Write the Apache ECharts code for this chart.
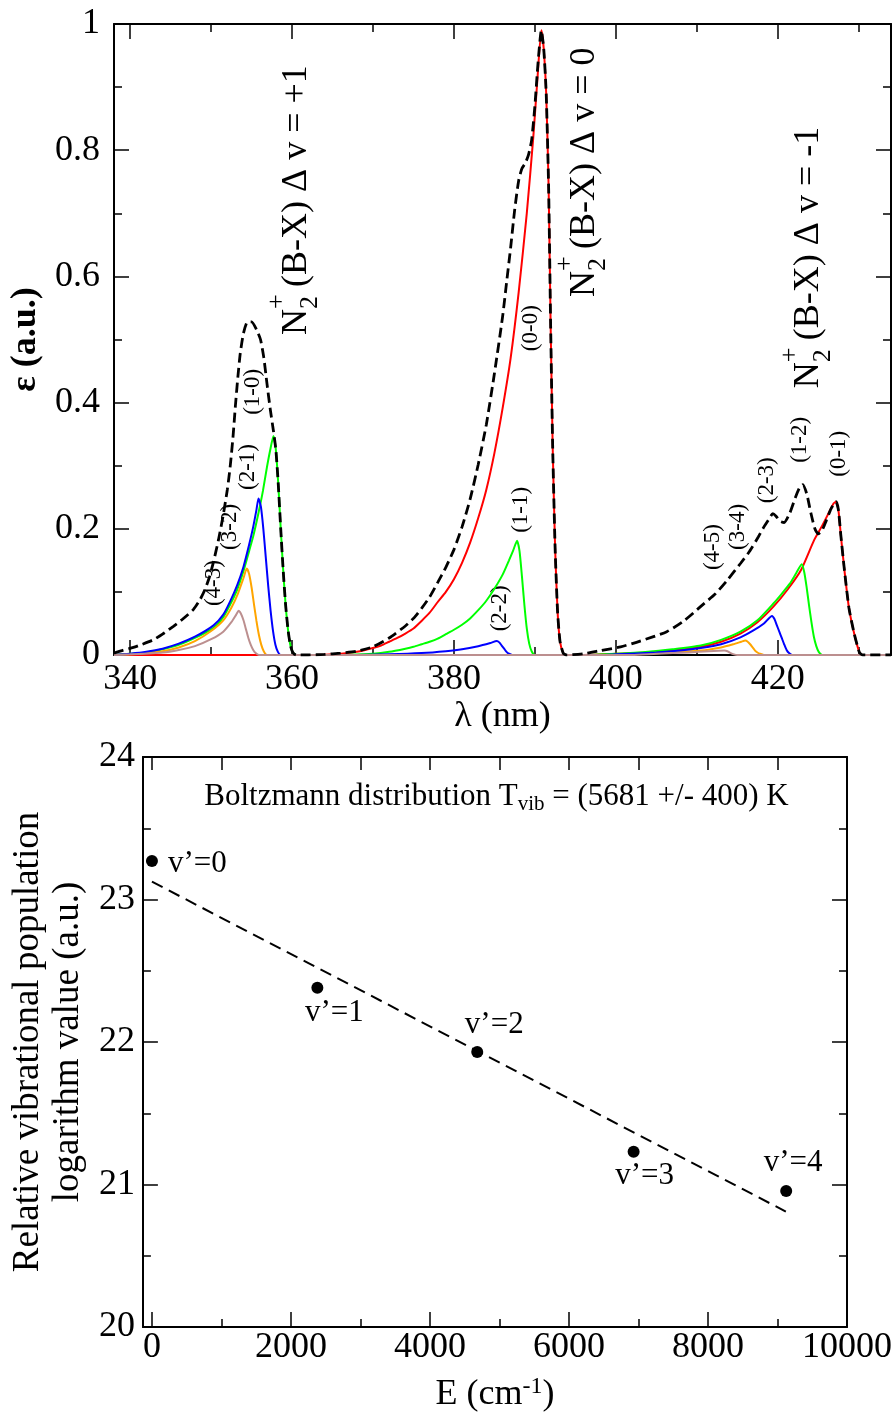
<!DOCTYPE html>
<html><head><meta charset="utf-8">
<script src="https://cdn.jsdelivr.net/npm/echarts@6/dist/echarts.min.js"></script>
<style>html,body{margin:0;padding:0;background:#fff}#c{width:896px;height:1416px}</style>
</head><body><div id="c"></div>
<script>
// ---------------- DATA (top: emission spectra, [lambda nm, intensity a.u.]) ----------------
const lambdaMajor = [340, 360, 380, 400, 420];
const lambdaMinor = [350, 370, 390, 410, 430];

// v'=0 : (0-0) and (0-1)
const bandV0 = [[338,0],[362,0],[364,0.0005],[366,0.002],[368,0.005],[370,0.011],[371,0.015],[372,0.021],[373,0.027],[374,0.034],[375,0.042],[376,0.054],[377,0.067],[378,0.084],[379,0.1],[380,0.12],[381,0.146],[382,0.178],[383,0.217],[384,0.262],[385,0.32],[386,0.39],[387,0.47],[388,0.575],[389,0.7],[389.8,0.82],[390.3,0.91],[390.8,0.99],[391.1,0.96],[391.4,0.89],[391.7,0.74],[391.95,0.52],[392.2,0.33],[392.5,0.17],[392.8,0.07],[393.1,0.022],[393.5,0.003],[393.9,0],
  [396,0],[400,0.002],[404.3,0.004],[407,0.007],[410.5,0.013],[413,0.021],[415.4,0.034],[417.5,0.052],[419.5,0.077],[421.3,0.105],[422.9,0.135],[424.5,0.182],[425.5,0.205],[426.3,0.225],[426.9,0.24],[427.2,0.243],[427.5,0.23],[427.8,0.19],[428.2,0.14],[428.8,0.075],[429.45,0.034],[430.1,0.004],[430.5,0],[434,0]];
// v'=1 : (1-0), (1-1), (1-2)
const bandV1 = [[338,0],[340,0.002],[342,0.004],[344,0.009],[346,0.016],[348,0.027],[350.3,0.043],[351.5,0.06],[352.35,0.08],[353.2,0.103],[354,0.133],[354.7,0.165],[355.2,0.188],[355.85,0.225],[356.4,0.26],[356.9,0.298],[357.3,0.325],[357.7,0.347],[358.0,0.325],[358.3,0.27],[358.6,0.2],[358.9,0.135],[359.2,0.08],[359.5,0.04],[359.8,0.015],[360.1,0.004],[360.5,0],
  [364,0],[367,0.0005],[370,0.002],[372,0.005],[374,0.01],[375,0.013],[376,0.017],[377,0.021],[378,0.026],[379,0.033],[380,0.04],[381,0.048],[382,0.058],[383,0.071],[384,0.086],[385,0.105],[386,0.127],[386.8,0.15],[387.3,0.165],[387.8,0.181],[388.1,0.165],[388.4,0.125],[388.7,0.08],[389.0,0.042],[389.3,0.018],[389.6,0.006],[390.0,0],
  [396,0],[400,0.002],[404,0.005],[407,0.009],[410.5,0.015],[413,0.024],[415.4,0.037],[417.5,0.055],[419.5,0.082],[420.5,0.097],[421.5,0.113],[422.3,0.13],[422.97,0.144],[423.27,0.132],[423.57,0.108],[423.87,0.079],[424.17,0.052],[424.47,0.029],[424.77,0.014],[425.07,0.005],[425.5,0],[434,0]];
// v'=2 : (2-1), (2-2), (2-3)
const bandV2 = [[338,0],[340,0.002],[342,0.005],[344,0.01],[346,0.018],[348,0.029],[350.3,0.047],[351.5,0.064],[352.35,0.085],[353.2,0.11],[354,0.14],[354.7,0.175],[355.2,0.203],[355.6,0.23],[355.85,0.248],[356.15,0.235],[356.45,0.2],[356.75,0.155],[357.05,0.11],[357.35,0.07],[357.65,0.038],[357.95,0.016],[358.25,0.005],[358.6,0],
  [368,0],[372,0.001],[376,0.003],[379,0.006],[381,0.009],[383,0.014],[384.5,0.019],[385.3,0.022],[385.6,0.02],[385.9,0.015],[386.2,0.01],[386.5,0.005],[386.8,0.002],[387.2,0],
  [398,0],[400,0.001],[405,0.004],[408,0.007],[410.5,0.011],[413,0.017],[415.4,0.028],[417,0.039],[418.3,0.05],[419.3,0.062],[419.6,0.057],[419.9,0.047],[420.2,0.037],[420.5,0.027],[420.8,0.017],[421.1,0.008],[421.4,0.003],[421.8,0],[434,0]];
// v'=3 : (3-2), (3-4)
const bandV3 = [[338,0],[340,0.001],[342,0.003],[344,0.006],[346,0.012],[348,0.022],[350,0.038],[351.5,0.055],[352.5,0.075],[353.3,0.097],[354,0.122],[354.4,0.137],[354.7,0.128],[355.0,0.107],[355.3,0.08],[355.6,0.054],[355.9,0.032],[356.2,0.016],[356.5,0.006],[356.9,0],
  [400,0],[405.5,0.003],[410.5,0.007],[413,0.012],[414.5,0.017],[415.5,0.021],[416,0.023],[416.3,0.021],[416.6,0.017],[416.9,0.012],[417.2,0.007],[417.5,0.004],[417.8,0.002],[418.3,0],[434,0]];
// v'=4 : (4-3), (4-5)
const bandV4 = [[338,0],[340,0.001],[344,0.004],[346,0.008],[348,0.014],[350,0.025],[351.5,0.037],[352.5,0.052],[353.1,0.064],[353.4,0.07],[353.7,0.065],[354.0,0.055],[354.3,0.041],[354.6,0.027],[354.9,0.016],[355.2,0.008],[355.5,0.003],[355.9,0],
  [402,0],[405,0.002],[409,0.004],[411.5,0.006],[413.4,0.007],[413.8,0.006],[414.2,0.003],[414.6,0.001],[415,0],[434,0]];
// total (sum) spectrum
const totalSpectrum = [[338,0.003],[339,0.007],[340.4,0.012],[341.5,0.017],[342.85,0.024],[344,0.033],[345.3,0.045],[346.5,0.057],[347.8,0.072],[348.6,0.087],[349.25,0.104],[349.8,0.124],[350.3,0.148],[350.9,0.182],[351.5,0.222],[352,0.262],[352.35,0.298],[352.7,0.345],[353,0.395],[353.3,0.44],[353.6,0.478],[354,0.51],[354.5,0.528],[355,0.528],[355.6,0.516],[356.1,0.5],[356.5,0.472],[356.9,0.43],[357.3,0.39],[357.7,0.355],[358.0,0.325],[358.3,0.27],[358.6,0.2],[358.9,0.135],[359.2,0.08],[359.5,0.04],[359.8,0.015],[360.1,0.004],[360.5,0],
  [362,0],[364,0.001],[366,0.003],[368,0.006],[370,0.013],[372,0.027],[374,0.046],[375,0.058],[376,0.074],[377,0.092],[378,0.115],[379,0.139],[380,0.167],[381,0.203],[382,0.247],[383,0.302],[384,0.365],[385,0.446],[386,0.535],[386.5,0.59],[387,0.645],[387.5,0.705],[388,0.752],[388.4,0.771],[388.8,0.779],[389.2,0.792],[389.6,0.816],[390.0,0.87],[390.4,0.94],[390.8,0.99],[391.1,0.96],[391.4,0.89],[391.7,0.74],[391.95,0.52],[392.2,0.33],[392.5,0.17],[392.8,0.07],[393.1,0.022],[393.5,0.003],[393.9,0],
  [396,0.002],[398.1,0.007],[400.6,0.013],[403,0.022],[406.3,0.037],[408.5,0.055],[410.5,0.077],[412.3,0.097],[413.8,0.119],[415.4,0.145],[416.4,0.162],[416.9,0.172],[417.6,0.187],[418.3,0.203],[418.9,0.215],[419.4,0.224],[419.8,0.22],[420.3,0.212],[420.8,0.21],[421.5,0.225],[422.2,0.25],[422.7,0.265],[423.1,0.27],[423.6,0.255],[424.1,0.225],[424.6,0.2],[425.0,0.192],[425.5,0.198],[426.0,0.213],[426.6,0.232],[427.2,0.243],[427.5,0.23],[427.8,0.19],[428.2,0.14],[428.8,0.075],[429.45,0.034],[430.1,0.004],[430.5,0],[434,0]];

// band labels: [text, lambda, intensity] (label centre)
const bandLabels = [["(4-3)",350.3,0.114],["(3-2)",352.3,0.203],["(2-1)",354.6,0.298],["(1-0)",355.2,0.417],
  ["(0-0)",389.5,0.518],["(1-1)",388.3,0.230],["(2-2)",385.7,0.074],
  ["(4-5)",412.0,0.171],["(3-4)",415.1,0.203],["(2-3)",418.7,0.277],["(1-2)",422.7,0.341],["(0-1)",427.6,0.319]];
// sequence labels: [delta-v text, lambda, intensity]
const sequenceLabels = [["+1",360.56,0.721],["0",396.1,0.765],["-1",423.84,0.630]];

// ---------------- DATA (bottom: Boltzmann plot) ----------------
const energyMajor = [0, 2000, 4000, 6000, 8000, 10000];
const energyMinor = [1000, 3000, 5000, 7000, 9000];
const energyTop = [0,1000,2000,3000,4000,5000,6000,7000,8000,9000,10000];
const levelNames = ["v\u2019=0","v\u2019=1","v\u2019=2","v\u2019=3","v\u2019=4"];
const levelEnergy = [0, 2380, 4680, 6930, 9125];
const levelLnPop = [23.27, 22.38, 21.93, 21.23, 20.955];
const fitLine = [[0, 23.125], [9120, 20.81]];
const boltzText = [4957, 23.72];

// ---------------- CHART ----------------
const FONT = '"Liberation Serif", "Times New Roman", serif';
const BLACK = '#000';
const chart = echarts.init(document.getElementById('c'), null, {renderer: 'canvas'});

function xAx(grid, pos, min, max, ticks, len, opts) {
  opts = opts || {};
  return Object.assign({
    gridIndex: grid, type: 'value', position: pos, min: min, max: max,
    axisLine: {show: !!opts.line, onZero: false, lineStyle: {color: BLACK, width: 2}},
    axisTick: {show: true, inside: true, length: len, customValues: ticks, lineStyle: {color: BLACK, width: 1.5}},
    axisLabel: opts.labels ? {show: true, customValues: ticks, fontSize: 36, fontFamily: FONT, color: BLACK, margin: opts.margin || 7, formatter: v => String(v)} : {show: false},
    splitLine: {show: false}
  }, opts.extra || {});
}
function yAx(grid, pos, min, max, interval, labels, margin, extra) {
  return Object.assign({
    gridIndex: grid, type: 'value', position: pos, min: min, max: max, interval: interval,
    axisLine: {show: true, onZero: false, lineStyle: {color: BLACK, width: 2}},
    axisTick: {show: true, inside: true, length: 15, lineStyle: {color: BLACK, width: 1.5}},
    minorTick: {show: true, splitNumber: 2, length: 8, lineStyle: {color: BLACK, width: 1.5}},
    axisLabel: labels ? {show: true, fontSize: 36, fontFamily: FONT, color: BLACK, margin: margin, formatter: v => String(v)} : {show: false},
    splitLine: {show: false}, minorSplitLine: {show: false}
  }, extra || {});
}

const lineSeries = (name, data, color) => ({
  name: name, type: 'line', xAxisIndex: 0, yAxisIndex: 0, data: data, showSymbol: false, symbol: 'none',
  smooth: 0.2, lineStyle: {color: color, width: 2}, z: 2, animation: false
});

const labelPlacement = [['right', 10, [0, 3]], ['bottom', 4, [17, 0]], ['top', 6, [17, 0]], ['bottom', 3, [11, 0]], ['top', 7, [7, 0]]];

const option = {
  animation: false,
  backgroundColor: '#fff',
  grid: [
    {left: 114, top: 24, width: 777, height: 631},
    {left: 137, top: 757, width: 710, height: 570}
  ],
  xAxis: [
    xAx(0, 'bottom', 338, 434, lambdaMajor, 15, {line: true, labels: true, margin: 7, extra: {
      name: '\u03bb (nm)', nameLocation: 'middle', nameGap: 44,
      nameTextStyle: {fontSize: 36, fontFamily: FONT, color: BLACK}}}),
    xAx(0, 'bottom', 338, 434, lambdaMinor, 8),
    xAx(0, 'top', 338, 434, lambdaMajor, 15, {line: true}),
    xAx(0, 'top', 338, 434, lambdaMinor, 8),
    xAx(1, 'bottom', -130, 10000, energyMajor, 15, {line: true, labels: true, margin: 3, extra: {
      name: '{a|E (cm}{s|-1}{a|)}', nameLocation: 'middle', nameGap: 48,
      nameTextStyle: {fontSize: 36, fontFamily: FONT, color: BLACK, rich: {
        a: {fontSize: 36, fontFamily: FONT, color: BLACK, lineHeight: 40},
        s: {fontSize: 24, fontFamily: FONT, color: BLACK, lineHeight: 4, verticalAlign: 'top'}}}}}),
    xAx(1, 'bottom', -130, 10000, energyMinor, 8),
    xAx(1, 'top', -130, 10000, energyTop, 13, {line: true})
  ],
  yAxis: [
    yAx(0, 'left', 0, 1, 0.2, true, 14, {name: '\u03b5 (a.u.)', nameLocation: 'middle', nameRotate: 90, nameGap: 57,
      nameTextStyle: {fontSize: 36, fontFamily: FONT, color: BLACK, fontWeight: 'bold'}}),
    yAx(0, 'right', 0, 1, 0.2, false),
    yAx(1, 'left', 20, 24, 1, true, 8, {name: 'Relative vibrational population\nlogarithm value (a.u.)', nameLocation: 'middle', nameRotate: 90, nameGap: 48,
      nameTextStyle: {fontSize: 37, fontFamily: FONT, color: BLACK, lineHeight: 40}}),
    yAx(1, 'right', 20, 24, 1, false)
  ],
  series: [
    lineSeries('v0', bandV0, '#ff0000'),
    lineSeries('v1', bandV1, '#00ff00'),
    lineSeries('v3', bandV3, '#ffa500'),
    lineSeries('v2', bandV2, '#0000ff'),
    lineSeries('v4', bandV4, '#bc8f8f'),
    Object.assign(lineSeries('total', totalSpectrum, BLACK), {lineStyle: {color: BLACK, width: 2.8, type: [10, 5]}, z: 5}),
    {
      name: 'fit', type: 'line', xAxisIndex: 4, yAxisIndex: 2, data: fitLine, showSymbol: false, symbol: 'none',
      lineStyle: {color: BLACK, width: 2, type: [12, 7]}, z: 2
    },
    {
      name: 'levels', type: 'scatter', xAxisIndex: 4, yAxisIndex: 2, symbol: 'circle', symbolSize: 12,
      itemStyle: {color: BLACK, opacity: 1}, z: 3,
      data: levelEnergy.map((e, i) => {
        const pos = labelPlacement[i];
        return {value: [e, levelLnPop[i]], label: {show: true, position: pos[0], distance: pos[1], offset: pos[2], color: BLACK}};
      }),
      label: {show: true, formatter: p => levelNames[p.dataIndex], fontSize: 31, fontFamily: FONT, color: BLACK},
      emphasis: {disabled: true}
    }
  ]
};
chart.setOption(option);

// ---------------- TEXT ANNOTATIONS ----------------
const mctx = document.createElement('canvas').getContext('2d');
function tw(t, s) { mctx.font = s + 'px ' + FONT; return mctx.measureText(t).width; }
function rotGroup(parts, cx, cy) {
  let x = 0; const items = [];
  for (const p of parts) { items.push({t: p.t, s: p.s, dy: p.dy || 0, x: x}); if (p.adv !== false) x += tw(p.t, p.s); }
  const off = -x / 2;
  return {type: 'group', x: cx, y: cy, rotation: Math.PI / 2, silent: true,
    children: items.map(it => ({type: 'text', x: it.x + off, y: it.dy,
      style: {text: it.t, fontSize: it.s, fontFamily: FONT, fill: BLACK, textAlign: 'left', textVerticalAlign: 'middle', align: 'left', verticalAlign: 'middle'}}))};
}
const graphics = [];
sequenceLabels.forEach(([dv, l, v]) => {
  const p = chart.convertToPixel({seriesIndex: 0}, [l, v]);
  graphics.push(rotGroup([
    {t: 'N', s: 36},
    {t: '+', s: 26, dy: -19, adv: false},
    {t: '2', s: 26, dy: 14},
    {t: ' (B-X) \u0394 v = ' + dv, s: 36}
  ], p[0], p[1]));
});
bandLabels.forEach(([t, l, v]) => {
  const p = chart.convertToPixel({seriesIndex: 0}, [l, v]);
  graphics.push(rotGroup([{t: t, s: 23}], p[0], p[1]));
});
const bp = chart.convertToPixel({seriesIndex: 7}, boltzText);
graphics.push({type: 'text', x: bp[0], y: bp[1], silent: true, style: {
  text: '{a|Boltzmann distribution T}{s|vib}{a| = (5681 +/- 400) K}',
  rich: {a: {fontSize: 31, fontFamily: FONT, fill: BLACK, color: BLACK, lineHeight: 36},
         s: {fontSize: 21, fontFamily: FONT, fill: BLACK, color: BLACK, lineHeight: 4, verticalAlign: 'bottom'}},
  textAlign: 'center', textVerticalAlign: 'middle', align: 'center', verticalAlign: 'middle'}});
chart.setOption({graphic: graphics});
</script></body></html>
